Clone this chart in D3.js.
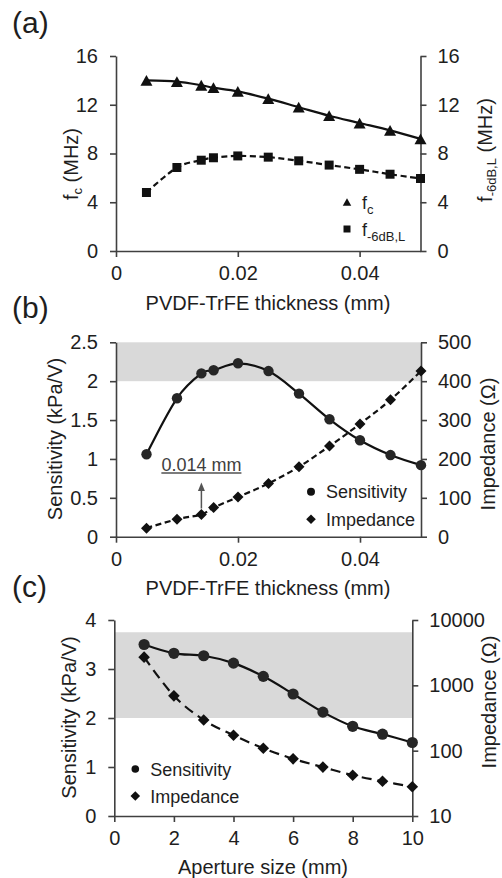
<!DOCTYPE html>
<html><head><meta charset="utf-8">
<script src="https://cdn.jsdelivr.net/npm/d3@7"></script>
<style>
body{margin:0;background:#fff;}
svg{display:block;font-family:"Liberation Sans",Arial,sans-serif;}
</style></head><body>
<svg id="chart" width="502" height="878"></svg>
<script>
// ---------- data ----------
const thickness = [0.005,0.01,0.014,0.016,0.02,0.025,0.03,0.035,0.04,0.045,0.05];
const fcMHz = [14.0,13.9,13.6,13.4,13.1,12.5,11.8,11.1,10.5,9.9,9.2];
const f6dBMHz = [4.8,6.85,7.45,7.65,7.8,7.7,7.4,7.05,6.7,6.3,5.95];
const sensThick = [1.06,1.78,2.10,2.14,2.23,2.13,1.84,1.51,1.24,1.05,0.92];
const impThick = [22,45,57,75,102,137,180,233,290,352,426];
const aperture = [1,2,3,4,5,6,7,8,9,10];
const sensAperture = [3.5,3.32,3.27,3.12,2.85,2.49,2.12,1.83,1.67,1.50];
const impAperture = [2700,690,295,172,109,75,56,42,34,28];
const thickTicks = [0,0.02,0.04];
const freqTicks = [0,4,8,12,16];
const sensTicksB = [0,0.5,1,1.5,2,2.5];
const impTicksB = [0,100,200,300,400,500];
const apertureTicks = [0,2,4,6,8,10];
const sensTicksC = [0,1,2,3,4];
const impTicksC = [10,100,1000,10000];
const bandB = [2,2.5];
const bandC = [2,3.75];
const annotThick = 0.014;

// ---------- helpers ----------
const svg = d3.select('#chart');
const AX = '#404040', TXT = '#1e1e1e', MK = '#111', CIRC = '#262626';
const FS = 20, LFS = 18;

const sym = {
  tri: w => { const h = w*0.9; return `M0,${-h/2}L${w/2},${h/2}L${-w/2},${h/2}Z`; },
  sq: s => `M${-s/2},${-s/2}h${s}v${s}h${-s}Z`,
  dia: d => `M0,${-d}L${d},0L0,${d}L${-d},0Z`,
  circ: r => `M${r},0A${r},${r} 0 1,1 ${-r},0A${r},${r} 0 1,1 ${r},0Z`
};

function styleAxis(g){
  g.attr('font-family',null).attr('font-size',FS);
  g.select('.domain').attr('stroke',AX).attr('stroke-width',1.6);
  g.selectAll('.tick line').attr('stroke',AX).attr('stroke-width',1.6);
  g.selectAll('.tick text').attr('fill',TXT);
}

function axes(x,yL,yR,xt,ylt,yrt,fmtR){
  const [x0,x1] = x.range(), [y0] = yL.range();
  const gx = svg.append('g').attr('transform',`translate(0,${y0})`)
    .call(d3.axisBottom(x).tickValues(xt).tickSize(6).tickPadding(9).tickSizeOuter(0).tickFormat(d3.format('')));
  styleAxis(gx);
  const gl = svg.append('g').attr('transform',`translate(${x0},0)`)
    .call(d3.axisLeft(yL).tickValues(ylt).tickSize(6).tickPadding(12).tickSizeOuter(0).tickFormat(d3.format('')));
  styleAxis(gl);
  const gr = svg.append('g').attr('transform',`translate(${x1},0)`)
    .call(d3.axisRight(yR).tickValues(yrt).tickSize(6).tickPadding(11).tickSizeOuter(0).tickFormat(fmtR||d3.format('')));
  styleAxis(gr);
}

function series(xs,ys,x,y,opt){
  const line = d3.line().x((d,i)=>x(xs[i])).y(d=>y(d)).curve(d3.curveCardinal.tension(0));
  svg.append('path').datum(ys).attr('d',line).attr('fill','none')
    .attr('stroke','#111').attr('stroke-width',2.2)
    .attr('stroke-dasharray',opt.dash||null);
  svg.append('g').selectAll('path').data(ys).join('path')
    .attr('transform',(d,i)=>`translate(${x(xs[i])},${y(d)})`)
    .attr('d',opt.sym).attr('fill',opt.fill||MK);
}

function band(x,y,b){
  svg.append('rect').attr('x',x.range()[0]).attr('width',x.range()[1]-x.range()[0])
    .attr('y',y(b[1])).attr('height',y(b[0])-y(b[1])).attr('fill','#d9d9d9');
}

function vtitle(xp,yp,parts){
  const t = svg.append('text').attr('transform',`translate(${xp},${yp}) rotate(-90)`)
    .attr('text-anchor','middle').attr('font-size',FS).attr('fill',TXT);
  parts.forEach(p=>{
    const s = t.append('tspan').text(p.t);
    if(p.sub){ s.attr('font-size',13).attr('dy',4); }
    if(p.back){ s.attr('dy',-4); }
  });
}
function htitle(xp,yp,txt){
  svg.append('text').attr('x',xp).attr('y',yp).attr('text-anchor','middle')
    .attr('font-size',FS).attr('fill',TXT).text(txt);
}
function plabel(yp,txt){
  svg.append('text').attr('x',12).attr('y',yp).attr('font-size',30).attr('fill',TXT).text(txt);
}
function legend(xp,yp,symPath,parts){
  svg.append('path').attr('transform',`translate(${xp},${yp})`).attr('d',symPath).attr('fill',MK);
  const t = svg.append('text').attr('x',xp+15).attr('y',yp+6.5).attr('font-size',LFS).attr('fill',TXT);
  parts.forEach(p=>{
    const s = t.append('tspan').text(p.t);
    if(p.sub){ s.attr('font-size',13).attr('dy',5); }
  });
}

// ---------- panel (a) ----------
{
  const x = d3.scaleLinear().domain([0,0.05]).range([116,420.5]);
  const yL = d3.scaleLinear().domain([0,16]).range([251,56]);
  const yR = d3.scaleLinear().domain([0,16]).range([251,56]);
  axes(x,yL,yR,thickTicks,freqTicks,freqTicks);
  series(thickness,fcMHz,x,yL,{sym:sym.tri(12)});
  series(thickness,f6dBMHz,x,yR,{sym:sym.sq(9),dash:'6,3.5'});
  legend(347,202,sym.tri(8.5),[{t:'f'},{t:'c',sub:true}]);
  legend(347,229,sym.sq(7),[{t:'f'},{t:'-6dB,L',sub:true}]);
  vtitle(78,164,[{t:'f'},{t:'c',sub:true},{t:' (MHz)',back:true}]);
  vtitle(492,150,[{t:'f'},{t:'-6dB,L',sub:true},{t:' (MHz)',back:true}]);
  htitle(268,310,'PVDF-TrFE thickness (mm)');
  plabel(33,'(a)');
}

// ---------- panel (b) ----------
{
  const x = d3.scaleLinear().domain([0,0.05]).range([116,421]);
  const yL = d3.scaleLinear().domain([0,2.5]).range([536.7,342.3]);
  const yR = d3.scaleLinear().domain([0,500]).range([536.7,342.3]);
  band(x,yL,bandB);
  axes(x,yL,yR,thickTicks,sensTicksB,impTicksB);
  series(thickness,impThick,x,yR,{sym:sym.dia(5.5),dash:'6,3.5'});
  series(thickness,sensThick,x,yL,{sym:sym.circ(5.2),fill:CIRC});
  legend(311,491.7,sym.circ(4),[{t:'Sensitivity'}]);
  legend(311,519.3,sym.dia(4.8),[{t:'Impedance'}]);
  // annotation
  const ax = x(annotThick), iy = yR(impThick[thickness.indexOf(annotThick)]);
  svg.append('line').attr('x1',ax).attr('x2',ax).attr('y1',iy-6).attr('y2',490)
    .attr('stroke','#555').attr('stroke-width',1.5);
  svg.append('path').attr('d',`M${ax},482.5L${ax+3.5},491L${ax-3.5},491Z`).attr('fill','#555');
  const at = svg.append('text').attr('x',ax).attr('y',470.5).attr('text-anchor','middle')
    .attr('font-size',LFS).attr('fill','#404040').text('0.014 mm');
  const bb = at.node().getBBox();
  svg.append('line').attr('x1',bb.x).attr('x2',bb.x+bb.width).attr('y1',473).attr('y2',473)
    .attr('stroke','#505050').attr('stroke-width',1.3);
  vtitle(62,439,[{t:'Sensitivity (kPa/V)'}]);
  vtitle(495,444,[{t:'Impedance (Ω)'}]);
  htitle(268,595,'PVDF-TrFE thickness (mm)');
  plabel(318,'(b)');
}

// ---------- panel (c) ----------
{
  const x = d3.scaleLinear().domain([0,10]).range([114.3,412.3]);
  const yL = d3.scaleLinear().domain([0,4]).range([816,620]);
  const yR = d3.scaleLog().domain([10,10000]).range([816,620]);
  band(x,yL,bandC);
  axes(x,yL,yR,apertureTicks,sensTicksC,impTicksC,d3.format('d'));
  series(aperture,impAperture,x,yR,{sym:sym.dia(5.8),dash:'10,6'});
  series(aperture,sensAperture,x,yL,{sym:sym.circ(5.6),fill:CIRC});
  legend(135.3,769,sym.circ(3.8),[{t:'Sensitivity'}]);
  legend(135.3,796,sym.dia(4.8),[{t:'Impedance'}]);
  vtitle(76,717.5,[{t:'Sensitivity (kPa/V)'}]);
  vtitle(496,702,[{t:'Impedance (Ω)'}]);
  htitle(263,874,'Aperture size (mm)');
  plabel(597,'(c)');
}
</script>
</body></html>
